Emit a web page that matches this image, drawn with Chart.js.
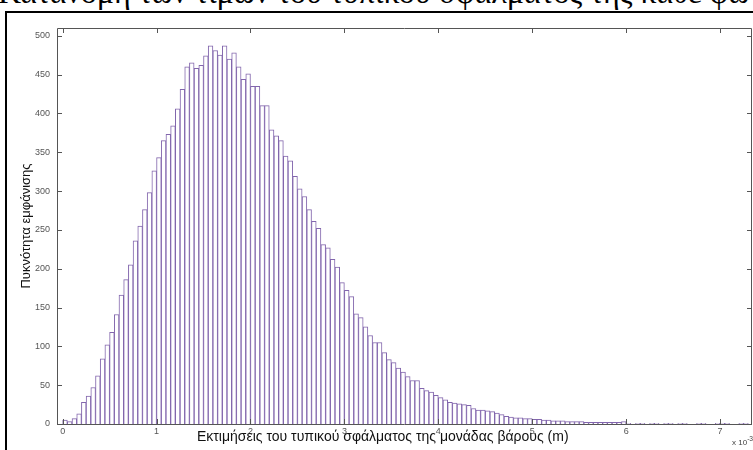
<!DOCTYPE html>
<html>
<head>
<meta charset="utf-8">
<script src="https://cdn.jsdelivr.net/npm/chart.js@4/dist/chart.umd.min.js"></script>
<style>
  html, body { margin: 0; padding: 0; background: #fff; }
  body { width: 753px; height: 450px; overflow: hidden; position: relative; }
  #caption {
    position: absolute; left: -2px; top: -24px; height: 32px; white-space: nowrap;
    font: 32px/32px "Liberation Serif", "DejaVu Serif", serif; color: #000;
  }
  #frame {
    position: absolute; left: 5px; top: 11px; width: 800px; height: 500px;
    border-left: 2px solid #000; border-top: 2px solid #000; background: #fff;
  }
  #wrap { position: absolute; left: 0; top: 0; width: 753px; height: 450px; }
  #xtitle {
    position: absolute; left: 197px; top: 428px; white-space: nowrap;
    font-family: "Liberation Sans", Arial, sans-serif; font-size: 14px; color: #111;
  }
  #xexp {
    position: absolute; left: 732px; top: 435px; white-space: nowrap;
    font-family: "Liberation Sans", Arial, sans-serif; font-size: 8px; color: #444;
  }
</style>
</head>
<body>
<div id="caption">Κατανομή των τιμών του τυπικού σφάλματος της κάθε φω</div>
<div id="frame"></div>
<div id="wrap"><canvas id="histChart" width="753" height="450"></canvas></div>
<div id="xtitle">Εκτιμήσεις του τυπικού σφάλματος της μονάδας βάρους (m)</div>
<div id="xexp">x 10<sup>-3</sup></div>
<script>
// histogram bins (x in units of 1e-3 m)
const binWidth = 0.05;
const counts = [
    5, 3, 7, 13, 28, 36, 47, 62, 84, 102, 118, 141, 166, 186, 205, 236, 255, 276, 298, 326,
    343, 365, 373, 384, 406, 431, 460, 465, 458, 462, 474, 487, 481, 475, 487, 470, 478, 460, 444, 451,
    435, 435, 410, 410, 379, 371, 365, 345, 339, 319, 303, 293, 276, 261, 252, 231, 227, 212, 202, 182,
    172, 164, 142, 137, 125, 114, 105, 105, 92, 83, 79, 72, 67, 61, 56, 56, 46, 43, 41, 37,
    34, 31, 28, 27, 26, 25, 24, 20, 18, 18, 17, 16, 14, 12, 10, 9, 8, 8, 7, 7,
    6, 6, 5, 5, 4, 4, 4, 3, 3, 3, 3, 2, 2, 2, 2, 2, 2, 2, 2, 3,
    1, 0, 1, 1, 0, 1, 1, 0, 1, 1, 0, 1, 1, 0, 0, 1, 1, 0, 0, 1, 1, 1, 0, 0, 1, 1, 0
];
const xTicks = [0, 1, 2, 3, 4, 5, 6, 7];
const yTicks = [0, 50, 100, 150, 200, 250, 300, 350, 400, 450, 500];

const points = counts.map((c, i) => ({ x: (i + 0.5) * binWidth, y: c }));

const tickFont = { family: "'Liberation Sans', Arial, sans-serif", size: 9 };

// MATLAB style box with inward tick marks on all four sides
const boxTicks = {
    id: "boxTicks",
    afterDatasetsDraw(chart) {
        const { ctx, chartArea: a, scales: { x, y } } = chart;
        ctx.save();
        ctx.strokeStyle = "#555";
        ctx.lineWidth = 1;
        ctx.beginPath();
        ctx.rect(Math.round(a.left) + 0.5, Math.round(a.top) + 0.5,
                 Math.round(a.right - a.left) - 1, Math.round(a.bottom - a.top));
        xTicks.forEach(v => {
            const px = Math.round(x.getPixelForValue(v)) + 0.5;
            ctx.moveTo(px, a.top); ctx.lineTo(px, a.top + 5);
            ctx.moveTo(px, a.bottom); ctx.lineTo(px, a.bottom - 5);
        });
        yTicks.forEach(v => {
            const py = Math.round(y.getPixelForValue(v)) + 0.5;
            ctx.moveTo(a.left, py); ctx.lineTo(a.left + 5, py);
            ctx.moveTo(a.right, py); ctx.lineTo(a.right - 5, py);
        });
        ctx.stroke();
        ctx.restore();
    }
};

new Chart(document.getElementById("histChart"), {
    type: "bar",
    data: {
        datasets: [{
            data: points,
            backgroundColor: "#ffffff",
            borderColor: "#8266ad",
            borderWidth: 1,
            barPercentage: 1,
            categoryPercentage: 1
        }]
    },
    options: {
        responsive: false,
        animation: false,
        layout: { padding: { left: 0, top: 28, right: 1, bottom: 0 } },
        plugins: { legend: { display: false }, tooltip: { enabled: false } },
        scales: {
            x: {
                type: "linear",
                offset: false,
                min: -0.06,
                max: 7.34,
                grid: { display: false, drawTicks: false, offset: false },
                border: { display: false },
                afterFit: s => { s.height = 26; },
                afterBuildTicks: s => { s.ticks = xTicks.map(v => ({ value: v })); },
                ticks: { font: tickFont, color: "#555", padding: 2, maxRotation: 0 }
            },
            y: {
                min: 0,
                max: 510,
                grid: { display: false, drawTicks: false },
                border: { display: false },
                afterFit: s => { s.width = 57; },
                afterBuildTicks: s => { s.ticks = yTicks.map(v => ({ value: v })); },
                ticks: { font: tickFont, color: "#555", padding: 7 },
                title: {
                    display: true,
                    text: "Πυκνότητα εμφάνισης",
                    color: "#111",
                    font: { family: "'Liberation Sans', Arial, sans-serif", size: 13 },
                    padding: { top: 19, bottom: 0 }
                }
            }
        }
    },
    plugins: [boxTicks]
});
</script>
</body>
</html>
